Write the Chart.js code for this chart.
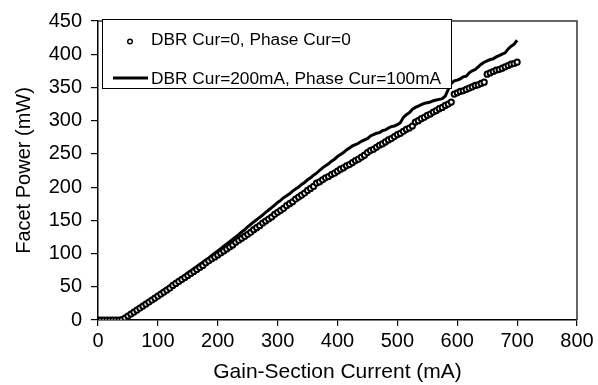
<!DOCTYPE html>
<html><head><meta charset="utf-8">
<script src="https://cdn.jsdelivr.net/npm/chart.js@4.4.0/dist/chart.umd.min.js"></script>
<style>html,body{margin:0;padding:0;background:#fff;}canvas{display:block;}</style>
</head><body>
<canvas id="c" width="598" height="385"></canvas>
<script>
// Gain-section current (mA)
const currents = [0,5,10,15,20,25,30,35,40,45,50,55,60,65,70,75,80,85,90,95,100,
105,110,115,120,125,130,135,140,145,150,155,160,165,170,175,180,185,190,195,200,
205,210,215,220,225,230,235,240,245,250,255,260,265,270,275,280,285,290,295,300,
305,310,315,320,325,330,335,340,345,350,355,360,365,370,375,380,385,390,395,400,
405,410,415,420,425,430,435,440,445,450,455,460,465,470,475,480,485,490,495,500,
505,510,515,520,525,530,535,540,545,550,555,560,565,570,575,580,585,590,595,600,
605,610,615,620,625,630,635,640,645,650,655,660,665,670,675,680,685,690,695,700];

// Facet power (mW), DBR Cur=0, Phase Cur=0 (open circles)
const powerDbr0 = [0,0,0,0,0,0,0,0,0.5,3,6,9,12,15,18,21,24,27,30,33,36,
39,42,45,48,52,55,58,61,64,67,70,73,76,79,82,86,89,92,95,98,
101,104,107,110,113,117,120,123,126,129,132,136,139,142,146,149,152,155,159,162,
165,168,172,175,178,182,185,188,191,195,198,201,206,208,211,214,216,219,221,224,
227,229,232,234,237,240,242,245,248,252,255,257,260,263,265,268,271,273,276,279,
281,284,287,289,292,298,300,303,305,308,310,313,315,318,320,323,325,328,340,342,
344,345,347,349,351,353,354,356,358,370,372,374,376,377,379,381,383,385,386,388];

// Facet power (mW), DBR Cur=200mA, Phase Cur=100mA (solid line)
const powerDbr200 = [0,0,0,0,0,0,0,0,0.5,3.5,6.5,10,13,16,19.5,22.5,26,29,32,35.5,38.5,
42,45,48,51.5,54.5,58,61,64.5,67.5,71,74,77.5,80.5,84,87,90.5,93.5,97,100.5,104,
107.5,111,114.5,118,121.5,125,128.5,132.5,136,140,144,147.5,151,154.5,158,162,165.5,169,173,177,
180,184,187,190,194,197,200,204,207,211,214,218,221,225,229,232,235,239,242,246,
249,252,256,259,262,264,266,269,271,273,277,279,281,282,285,286,289,291,292,294,
297,305,309,312,317,320,322,324,326,327,328,330,331,332,333,337,347,356,360,361,
363,366,367,372,375,377,381,385,388,390,392,393,396,398,400,402,408,412,415,421];

const xTickValues = [0,100,200,300,400,500,600,700,800];
const yTickValues = [0,50,100,150,200,250,300,350,400,450];
const seriesLabels = ['DBR Cur=0, Phase Cur=0', 'DBR Cur=200mA, Phase Cur=100mA'];
const xAxisTitle = 'Gain-Section Current (mA)';
const yAxisTitle = 'Facet Power (mW)';

const FONT = 'Liberation Sans, Arial, Helvetica, sans-serif';

const toPoints = ys => currents.map((x, i) => ({x: x, y: ys[i]}));

const boxPlugin = {
  id: 'box',
  afterDatasetsDraw(chart) {
    const {ctx, chartArea: a} = chart;
    ctx.save();
    ctx.strokeStyle = '#333';
    ctx.lineWidth = 1.5;
    ctx.beginPath();
    ctx.moveTo(a.left, a.top);
    ctx.lineTo(a.right, a.top);
    ctx.lineTo(a.right, a.bottom);
    ctx.stroke();
    ctx.restore();
  }
};

const legendPlugin = {
  id: 'customLegend',
  afterDraw(chart) {
    const {ctx} = chart;
    const ds = chart.data.datasets;
    ctx.save();
    ctx.fillStyle = '#fff';
    ctx.fillRect(102, 19, 349, 69);
    ctx.strokeStyle = '#000';
    ctx.lineWidth = 1;
    ctx.strokeRect(102.5, 19.5, 349, 69);
    ctx.beginPath();
    ctx.arc(130, 41.5, 2.3, 0, Math.PI * 2);
    ctx.fillStyle = '#fff';
    ctx.fill();
    ctx.lineWidth = 1.4;
    ctx.strokeStyle = '#000';
    ctx.stroke();
    ctx.beginPath();
    ctx.moveTo(113, 78);
    ctx.lineTo(148, 78);
    ctx.lineWidth = 3;
    ctx.stroke();
    ctx.fillStyle = '#000';
    ctx.font = '17.3px ' + FONT;
    ctx.textBaseline = 'alphabetic';
    ctx.textAlign = 'left';
    ctx.fillText(ds[0].label, 151, 45);
    ctx.fillText(ds[1].label, 151, 83.5);
    ctx.restore();
  }
};

new Chart(document.getElementById('c'), {
  type: 'scatter',
  data: {
    datasets: [
      {
        label: seriesLabels[0],
        data: toPoints(powerDbr0),
        showLine: false,
        pointStyle: 'circle',
        pointRadius: 2.6,
        pointBorderWidth: 2,
        pointBorderColor: '#000',
        pointBackgroundColor: '#fff',
        order: 0
      },
      {
        label: seriesLabels[1],
        data: toPoints(powerDbr200),
        showLine: true,
        borderColor: '#000',
        borderWidth: 3,
        pointRadius: 0,
        tension: 0,
        order: 1
      }
    ]
  },
  options: {
    responsive: false,
    animation: false,
    devicePixelRatio: 1,
    layout: {padding: {top: 19, right: 21, left: 0, bottom: 0}},
    plugins: {legend: {display: false}, tooltip: {enabled: false}},
    scales: {
      x: {
        type: 'linear', min: 0, max: 800,
        afterBuildTicks: s => { s.ticks = xTickValues.map(v => ({value: v})); },
        afterFit: s => { s.height = 65; },
        grid: {display: true, drawOnChartArea: false, drawTicks: true, tickLength: 6, color: '#000', lineWidth: 1.2},
        border: {display: true, color: '#000', width: 1.5},
        ticks: {color: '#000', font: {family: FONT, size: 20}, padding: 3, maxRotation: 0, autoSkip: false},
        title: {display: true, text: xAxisTitle, color: '#000', font: {family: FONT, size: 21}, padding: {top: 0, bottom: 0}}
      },
      y: {
        type: 'linear', min: 0, max: 450,
        afterBuildTicks: s => { s.ticks = yTickValues.map(v => ({value: v})); },
        afterFit: s => { s.width = 98; },
        grid: {display: true, drawOnChartArea: false, drawTicks: true, tickLength: 7, color: '#000', lineWidth: 1.2},
        border: {display: true, color: '#000', width: 1.5},
        ticks: {color: '#000', font: {family: FONT, size: 20}, padding: 9, autoSkip: false},
        title: {display: true, text: yAxisTitle, color: '#000', font: {family: FONT, size: 20}, padding: {top: 12, bottom: 0}}
      }
    }
  },
  plugins: [boxPlugin, legendPlugin]
});
</script>
</body></html>
